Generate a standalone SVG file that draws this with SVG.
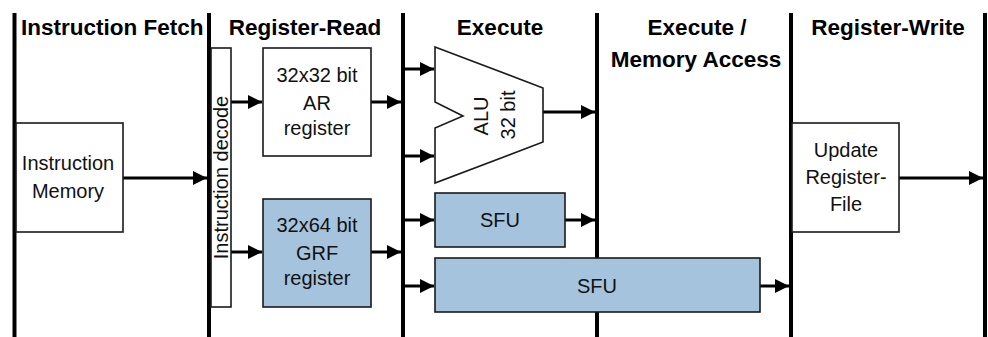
<svg xmlns="http://www.w3.org/2000/svg" width="988" height="337" viewBox="0 0 988 337">
  <style>
    .stage { stroke: #000; stroke-width: 4; fill: none; }
    .box { stroke: #1a1a1a; stroke-width: 1.6; fill: #fff; }
    .blue { fill: #a6c3de; }
    .title { font-family: "Liberation Sans", Arial, sans-serif; font-weight: bold; font-size: 22.5px; fill: #000; }
    .lbl { font-family: "Liberation Sans", Arial, sans-serif; font-size: 20px; fill: #111; text-anchor: middle; }
    .wire { stroke: #000; stroke-width: 3; fill: none; marker-end: url(#arrow); }
  </style>
  <defs>
    <marker id="arrow" markerUnits="userSpaceOnUse" markerWidth="15" markerHeight="14" refX="14" refY="7" orient="auto">
      <path d="M0,0 L14,7 L0,14 Z" fill="#000"/>
    </marker>
  </defs>

  <rect width="988" height="337" fill="#fff"/>

  <!-- pipeline stage boundaries -->
  <g id="stage-lines">
    <line class="stage" x1="14.5" y1="13" x2="14.5" y2="337"/>
    <line class="stage" x1="209" y1="13" x2="209" y2="337"/>
    <line class="stage" x1="403" y1="13" x2="403" y2="337"/>
    <line class="stage" x1="597" y1="13" x2="597" y2="337"/>
    <line class="stage" x1="791" y1="13" x2="791" y2="337"/>
    <line class="stage" x1="985" y1="13" x2="985" y2="337"/>
  </g>

  <!-- stage titles -->
  <g id="titles">
    <text class="title" x="21" y="35">Instruction Fetch</text>
    <text class="title" x="305" y="35" text-anchor="middle">Register-Read</text>
    <text class="title" x="500" y="35" text-anchor="middle">Execute</text>
    <text class="title" x="697" y="35" text-anchor="middle">Execute /</text>
    <text class="title" x="696" y="67" text-anchor="middle">Memory Access</text>
    <text class="title" x="888" y="35" text-anchor="middle">Register-Write</text>
  </g>

  <!-- connectors -->
  <g id="connectors">
    <line class="wire" x1="123" y1="178" x2="207" y2="178"/>
    <line class="wire" x1="231" y1="102" x2="262" y2="102"/>
    <line class="wire" x1="231" y1="252" x2="262" y2="252"/>
    <line class="wire" x1="371" y1="102" x2="401" y2="102"/>
    <line class="wire" x1="371" y1="252" x2="401" y2="252"/>
    <line class="wire" x1="405" y1="69" x2="434" y2="69"/>
    <line class="wire" x1="405" y1="156" x2="434" y2="156"/>
    <line class="wire" x1="543" y1="112" x2="595" y2="112"/>
    <line class="wire" x1="405" y1="220" x2="434" y2="220"/>
    <line class="wire" x1="565" y1="220" x2="595" y2="220"/>
    <line class="wire" x1="405" y1="286" x2="434" y2="286"/>
    <line class="wire" x1="760" y1="286" x2="789" y2="286"/>
    <line class="wire" x1="899" y1="178" x2="983" y2="178"/>
  </g>

  <g id="instruction-memory">
    <rect class="box" x="16" y="123" width="107" height="109"/>
    <text class="lbl" x="68" y="170">Instruction</text>
    <text class="lbl" x="68" y="198">Memory</text>
  </g>

  <g id="instruction-decode">
    <rect class="box" x="211" y="48" width="20" height="259"/>
    <text class="lbl" transform="translate(221,177.5) rotate(-90)" x="0" y="7">Instruction decode</text>
  </g>

  <g id="ar-register">
    <rect class="box" x="263" y="48" width="108" height="108"/>
    <text class="lbl" x="317" y="82">32x32 bit</text>
    <text class="lbl" x="317" y="110">AR</text>
    <text class="lbl" x="317" y="135">register</text>
  </g>

  <g id="grf-register">
    <rect class="box blue" x="263" y="199" width="108" height="108"/>
    <text class="lbl" x="317" y="232">32x64 bit</text>
    <text class="lbl" x="317" y="260">GRF</text>
    <text class="lbl" x="317" y="285">register</text>
  </g>

  <g id="alu">
    <path class="box" d="M435,47 L543,88 L543,142 L435,183 L435,128 L463,116 L435,102 Z"/>
    <text class="lbl" transform="translate(481,116) rotate(-90)" x="0" y="7">ALU</text>
    <text class="lbl" transform="translate(508,115) rotate(-90)" x="0" y="7">32 bit</text>
  </g>

  <g id="sfu-short">
    <rect class="box blue" x="435" y="193" width="130" height="54"/>
    <text class="lbl" x="500" y="227">SFU</text>
  </g>

  <g id="sfu-long">
    <rect class="box blue" x="435" y="258" width="325" height="54"/>
    <text class="lbl" x="597" y="293">SFU</text>
  </g>

  <g id="update-register-file">
    <rect class="box" x="792" y="123" width="107" height="109"/>
    <text class="lbl" x="846" y="157">Update</text>
    <text class="lbl" x="846" y="184">Register-</text>
    <text class="lbl" x="846" y="211">File</text>
  </g>
</svg>
